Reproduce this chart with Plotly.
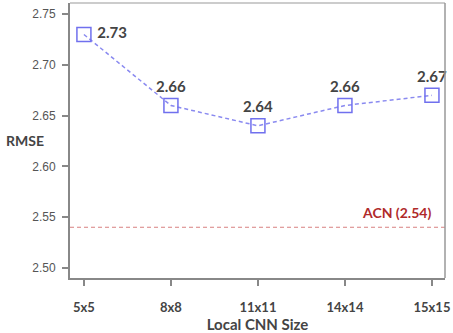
import plotly.graph_objects as go

categories = ["5x5", "8x8", "11x11", "14x14", "15x15"]
rmse = [2.73, 2.66, 2.64, 2.66, 2.67]
labels = ["2.73", "2.66", "2.64", "2.66", "2.67"]
acn_value = 2.54
acn_label = "ACN (2.54)"
y_ticks = [2.50, 2.55, 2.60, 2.65, 2.70, 2.75]

fig = go.Figure()
fig.add_trace(go.Scatter(
    x=categories, y=rmse, mode="lines+markers+text",
    text=[" " + t for t in labels[:1]] + labels[1:],
    textposition=["middle right", "top center", "top center", "top center", "top center"],
    textfont=dict(family="Lato", size=15, color="#444444", weight="bold"),
    line=dict(color="#8a8af0", width=1.5, dash="4px,3px"),
    marker=dict(symbol="square-open", size=14, color="#7070ee", line=dict(width=1.5)),
    cliponaxis=False,
    showlegend=False,
))
fig.add_shape(type="line", xref="paper", x0=0, x1=1, yref="y", y0=acn_value, y1=acn_value,
              line=dict(color="#d88080", width=1, dash="4px,3px"))
fig.add_annotation(x=0.968, xref="paper", xanchor="right", y=acn_value, yanchor="bottom", yshift=4,
                   text=acn_label, showarrow=False,
                   font=dict(family="Lato", size=14, color="#b02a2a", weight="bold"))
fig.add_annotation(x=0, xref="paper", xanchor="right", xshift=-24, y=0.5, yref="paper", yanchor="middle",
                   text="RMSE", showarrow=False,
                   font=dict(family="Lato", size=14, color="#444444", weight="bold"))

fig.update_layout(
    width=453, height=333,
    margin=dict(l=70, r=8, t=3, b=55),
    plot_bgcolor="white", paper_bgcolor="white",
    xaxis=dict(
        range=[-0.16, 4.15], showgrid=False, showline=True, linecolor="#888888", linewidth=2,
        mirror=False, ticks="outside", ticklen=6, tickcolor="#888888", tickwidth=1.5,
        ticklabelstandoff=10,
        tickfont=dict(family="Lato", size=13, color="#444444", weight="bold"),
        title=dict(text="Local CNN Size", standoff=4,
                   font=dict(family="Lato", size=15, color="#444444", weight="bold")),
    ),
    yaxis=dict(
        range=[2.49, 2.761], tickvals=y_ticks, ticktext=[f"{v:.2f}" for v in y_ticks],
        showgrid=False, zeroline=False, showline=True, linecolor="#888888", linewidth=2,
        ticks="outside", ticklen=6, tickcolor="#888888", tickwidth=1.5,
        ticklabelstandoff=4,
        tickfont=dict(family="Liberation Sans", size=12, color="#555555"),
    ),
)
# top/right frame
fig.add_shape(type="line", xref="paper", yref="paper", x0=0, x1=1, y0=1, y1=1,
              line=dict(color="#999999", width=1))
fig.add_shape(type="line", xref="paper", yref="paper", x0=1, x1=1, y0=0, y1=1,
              line=dict(color="#999999", width=1.5))

fig.write_html("out.html", config={"displayModeBar": False})
with open("out.html", "r", encoding="utf-8") as f:
    html = f.read()
html = html.replace("<head>", "<head><style>html,body{margin:0;padding:0;overflow:hidden;}</style>", 1)
with open("out.html", "w", encoding="utf-8") as f:
    f.write(html)
